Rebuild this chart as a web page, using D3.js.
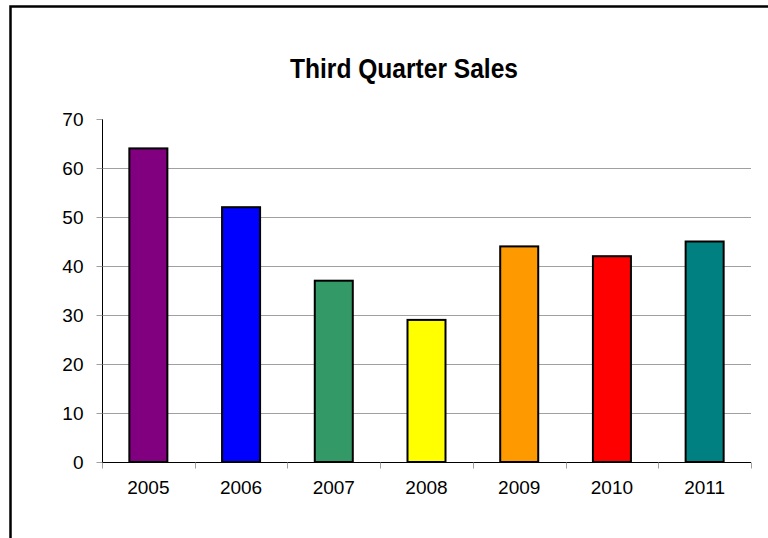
<!DOCTYPE html>
<html>
<head>
<meta charset="utf-8">
<script src="https://cdn.jsdelivr.net/npm/d3@7/dist/d3.min.js"></script>
<style>
  html, body { margin: 0; padding: 0; background: #fff; }
  svg { display: block; }
</style>
</head>
<body>
<svg id="chart" width="768" height="538"></svg>
<script>
// Third-quarter sales by year
const years = ["2005", "2006", "2007", "2008", "2009", "2010", "2011"];
const sales = [64, 52, 37, 29, 44, 42, 45];
const barColors = ["#800080", "#0000FF", "#339966", "#FFFF00", "#FF9900", "#FF0000", "#008080"];
const yTicks = [0, 10, 20, 30, 40, 50, 60, 70];

const svg = d3.select("#chart");
const margin = { left: 102, right: 17, top: 119, bottom: 76 };
const W = 768, H = 538;
const labelFont = "Liberation Sans, Arial, sans-serif";

// outer chart frame (extends past the right and bottom edges)
svg.append("rect")
  .attr("x", 10.5).attr("y", 6.5)
  .attr("width", 800).attr("height", 600)
  .attr("fill", "#fff")
  .attr("stroke", "#000").attr("stroke-width", 2.5);

const x = d3.scaleBand()
  .domain(years)
  .range([margin.left, W - margin.right])
  .paddingInner(0.59).paddingOuter(0.295);

const xCat = d3.scaleBand()
  .domain(years)
  .range([margin.left, W - margin.right]);

const y = d3.scaleLinear()
  .domain([0, 70])
  .range([H - margin.bottom, margin.top]);

// horizontal gridlines
svg.append("g")
  .selectAll("line")
  .data(yTicks.filter(t => t > 0 && t < 70))
  .join("line")
  .attr("x1", margin.left).attr("x2", W - margin.right)
  .attr("y1", d => Math.round(y(d)) + 0.5).attr("y2", d => Math.round(y(d)) + 0.5)
  .attr("stroke", "#a0a0a0").attr("stroke-width", 1);

// bars
svg.append("g")
  .selectAll("rect")
  .data(sales)
  .join("rect")
  .attr("x", (d, i) => x(years[i]))
  .attr("y", d => y(d))
  .attr("width", x.bandwidth())
  .attr("height", d => y(0) - y(d))
  .attr("fill", (d, i) => barColors[i])
  .attr("stroke", "#000").attr("stroke-width", 2);

// y axis
const yAxis = svg.append("g")
  .attr("transform", `translate(${margin.left + 0.5},0)`)
  .call(d3.axisLeft(y).tickValues(yTicks).tickSize(6).tickPadding(13));
yAxis.select(".domain").attr("stroke", "#000").attr("d", `M0,${y(70)}V${y(0)}`);
yAxis.selectAll(".tick line").attr("stroke", "#a0a0a0");
yAxis.selectAll(".tick text")
  .attr("font-family", labelFont)
  .attr("font-size", 19).attr("fill", "#000");

// x axis
const xAxisG = svg.append("g")
  .attr("transform", `translate(0,${Math.round(y(0)) + 0.5})`);
xAxisG.append("line")
  .attr("x1", margin.left).attr("x2", W - margin.right)
  .attr("stroke", "#000");
xAxisG.selectAll("line.tk")
  .data(years.map(d => xCat(d)).concat([W - margin.right]))
  .join("line").attr("class", "tk")
  .attr("x1", d => Math.round(d) + 0.5).attr("x2", d => Math.round(d) + 0.5)
  .attr("y1", 0).attr("y2", 6)
  .attr("stroke", "#a0a0a0");
xAxisG.selectAll("text")
  .data(years)
  .join("text")
  .attr("x", d => xCat(d) + xCat.bandwidth() / 2)
  .attr("y", 31)
  .attr("text-anchor", "middle")
  .attr("font-family", labelFont)
  .attr("font-size", 19).attr("fill", "#000")
  .text(d => d);

// title, set in a condensed bold face
svg.append("text")
  .attr("x", 290).attr("y", 78)
  .attr("textLength", 228)
  .attr("lengthAdjust", "spacingAndGlyphs")
  .attr("font-family", "Liberation Sans Narrow, Arial Narrow, Liberation Sans, sans-serif")
  .attr("font-weight", "bold")
  .attr("font-size", 28)
  .attr("fill", "#000")
  .text("Third Quarter Sales");
</script>
</body>
</html>
